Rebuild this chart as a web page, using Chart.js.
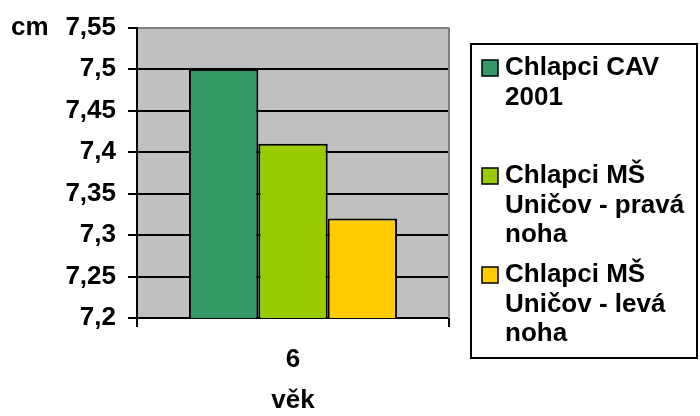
<!DOCTYPE html>
<html>
<head>
<meta charset="utf-8">
<script src="https://cdn.jsdelivr.net/npm/chart.js@4/dist/chart.umd.min.js"></script>
<style>
  html, body { margin: 0; padding: 0; background: #ffffff; }
  #wrap { width: 700px; height: 416px; position: relative; }
</style>
</head>
<body>
<div id="wrap"><canvas id="c" width="700" height="416"></canvas></div>
<script>
// Age category on the x axis
const categories = ['6'];
// Series names (legend) and their values in cm
const seriesNames = ['Chlapci CAV 2001', 'Chlapci MŠ Uničov - pravá noha', 'Chlapci MŠ Uničov - levá noha'];
const cavValues = [7.5];
const pravaValues = [7.41];
const levaValues = [7.32];
const seriesColors = ['#339966', '#99CC00', '#FFCC00'];
// Value axis range
const yMin = 7.2;
const yMax = 7.55;
const yStep = 0.05;
const yUnit = 'cm';
const xTitle = 'věk';

const FONT = '"Liberation Sans", Arial, sans-serif';

function fmt(v) {
  return String(Math.round(v * 100) / 100).replace('.', ',');
}

// Plot background, right border and unit label
const framePlugin = {
  id: 'frame',
  beforeDraw(chart) {
    const { ctx, chartArea: a } = chart;
    ctx.save();
    ctx.fillStyle = '#C0C0C0';
    ctx.fillRect(a.left, a.top, a.right - a.left, a.bottom - a.top);
    ctx.restore();
  },
  beforeDatasetsDraw(chart) {
    const { ctx, chartArea: a } = chart;
    ctx.save();
    ctx.strokeStyle = '#808080';
    ctx.lineWidth = 2;
    ctx.beginPath();
    ctx.moveTo(a.right, a.top);
    ctx.lineTo(a.right, a.bottom);
    ctx.stroke();
    ctx.restore();
  },
  afterDraw(chart) {
    const { ctx } = chart;
    const y = chart.scales.y;
    ctx.save();
    ctx.font = 'bold 26px ' + FONT;
    ctx.fillStyle = '#000';
    ctx.textBaseline = 'middle';
    ctx.textAlign = 'left';
    ctx.fillText(yUnit, 11, y.getPixelForValue(yMax));
    ctx.restore();
  }
};

// Boxed legend on the right with wrapped series names
const boxLegend = {
  id: 'boxLegend',
  afterDraw(chart) {
    const { ctx } = chart;
    const box = { x: 471, y: 44, w: 226, h: 314 };
    const itemTop = [68, 176, 275];
    const lineH = 29.5;
    const textX = 505;
    const maxW = 190;
    ctx.save();
    ctx.strokeStyle = '#000';
    ctx.lineWidth = 2;
    ctx.strokeRect(box.x, box.y, box.w, box.h);
    ctx.font = 'bold 26px ' + FONT;
    ctx.textBaseline = 'middle';
    ctx.textAlign = 'left';
    chart.data.datasets.forEach((ds, i) => {
      const words = ds.label.split(' ');
      const lines = [];
      let cur = '';
      words.forEach(w => {
        const test = cur ? cur + ' ' + w : w;
        if (cur && ctx.measureText(test).width > maxW) {
          lines.push(cur);
          cur = w;
        } else {
          cur = test;
        }
      });
      if (cur) lines.push(cur);
      const y0 = itemTop[i];
      ctx.fillStyle = ds.backgroundColor;
      ctx.fillRect(482, y0 - 8, 16, 16);
      ctx.lineWidth = 1.5;
      ctx.strokeStyle = '#000';
      ctx.strokeRect(482, y0 - 8, 16, 16);
      ctx.fillStyle = '#000';
      lines.forEach((ln, k) => ctx.fillText(ln, textX, y0 + k * lineH));
    });
    ctx.restore();
  }
};

const valueSets = [cavValues, pravaValues, levaValues];

new Chart(document.getElementById('c'), {
  type: 'bar',
  data: {
    labels: categories,
    datasets: seriesNames.map((name, i) => ({
      label: name,
      data: valueSets[i],
      backgroundColor: seriesColors[i],
      borderColor: '#000000',
      borderWidth: 2,
      borderSkipped: false,
      categoryPercentage: 0.667,
      barPercentage: 1.0
    }))
  },
  options: {
    responsive: false,
    animation: false,
    devicePixelRatio: 1,
    layout: { padding: { left: 65, right: 251, top: 25, bottom: 0 } },
    plugins: {
      legend: { display: false },
      tooltip: { enabled: false }
    },
    scales: {
      x: {
        afterFit(s) { s.height = 98; },
        grid: {
          display: true,
          drawOnChartArea: false,
          drawTicks: true,
          tickLength: 9,
          color: '#000',
          lineWidth: 2,
          offset: true
        },
        border: { display: true, color: '#000', width: 2 },
        ticks: {
          color: '#000',
          font: { family: FONT, size: 26, weight: 'bold' },
          padding: 17
        },
        title: {
          display: true,
          text: xTitle,
          color: '#000',
          font: { family: FONT, size: 26, weight: 'bold' },
          padding: { top: 0, bottom: 0 }
        }
      },
      y: {
        min: yMin,
        max: yMax,
        afterFit(s) { s.width = 72; },
        afterBuildTicks(s) {
          const t = [];
          for (let k = 0; k <= Math.round((yMax - yMin) / yStep); k++) {
            t.push({ value: Math.round((yMin + k * yStep) * 100) / 100 });
          }
          s.ticks = t;
        },
        grid: {
          drawTicks: true,
          tickLength: 9,
          lineWidth: 2,
          tickColor: '#000',
          color: (c) => (c.tick && Math.abs(c.tick.value - yMax) < 1e-6 ? '#808080' : '#000')
        },
        border: { display: true, color: '#000', width: 2 },
        ticks: {
          color: '#000',
          font: { family: FONT, size: 26, weight: 'bold' },
          padding: 12,
          callback: (v) => fmt(v)
        }
      }
    }
  },
  plugins: [framePlugin, boxLegend]
});
</script>
</body>
</html>
